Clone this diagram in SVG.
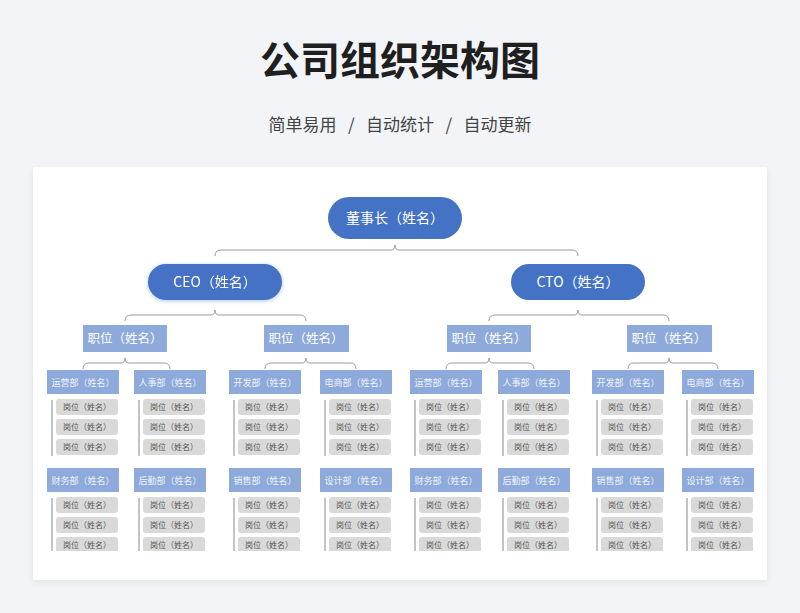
<svg xmlns="http://www.w3.org/2000/svg" width="800" height="613" viewBox="0 0 800 613">
<defs>
<style>
text{font-family:"Noto Sans CJK SC","Noto Sans",sans-serif;text-anchor:middle}
.t{font-size:40px;font-weight:bold;fill:#1f1f1f}
.s{font-size:17px;fill:#444}
.pill{fill:#4472c4}
.pt{font-size:14px;fill:#fff}
.pos{fill:#8eaadb}
.post{font-size:12.5px;fill:#fff}
.dep{fill:#8eaadb}
.dt{font-size:9px;fill:#eef2fb}
.job{fill:#d9d9d9}
.jt{font-size:8px;fill:#555}
.ln{fill:none;stroke:#9a9a9a;stroke-width:1}
.vl{stroke:#888;stroke-width:1}
</style>
<filter id="sh" x="-5%" y="-5%" width="110%" height="115%"><feDropShadow dx="0" dy="2" stdDeviation="3" flood-color="#000" flood-opacity="0.08"/></filter>
<filter id="gl" x="-20%" y="-30%" width="140%" height="170%"><feDropShadow dx="0" dy="1" stdDeviation="2" flood-color="#4472c4" flood-opacity="0.4"/></filter>
<clipPath id="cl"><rect x="0" y="0" width="800" height="551"/></clipPath>
<g id="col">
<line class="vl" x1="5" y1="30" x2="5" y2="86"/>
<rect class="job" x="9" y="29" width="62" height="16" rx="3"/><text class="jt" x="40" y="40">岗位（姓名）</text>
<rect class="job" x="9" y="49" width="62" height="16" rx="3"/><text class="jt" x="40" y="60">岗位（姓名）</text>
<rect class="job" x="9" y="69" width="62" height="16" rx="3"/><text class="jt" x="40" y="80">岗位（姓名）</text>
</g>
</defs>
<rect width="800" height="613" fill="#f2f4f7"/>
<text class="t" x="400" y="75">公司组织架构图</text>
<text class="s" x="400" y="131" xml:space="preserve">简单易用   /   自动统计   /   自动更新</text>
<rect x="33" y="167" width="734" height="413" fill="#fff" filter="url(#sh)"/>
<g id="connectors">
<path class="ln" d="M215,256 Q215,250 221,250 H391 Q395,250 395,245 Q395,250 399,250 H572 Q578,250 578,256"/>
<path class="ln" d="M125,321 Q125,315 131,315 H211 Q215,315 215,310 Q215,315 219,315 H300 Q306,315 306,321"/>
<path class="ln" d="M489,321 Q489,315 495,315 H574 Q578,315 578,310 Q578,315 582,315 H663 Q669,315 669,321"/>
<path class="ln" d="M83,369 Q83,363 89,363 H121 Q125,363 125,358 Q125,363 129,363 H164 Q170,363 170,369"/>
<path class="ln" d="M265,369 Q265,363 271,363 H302 Q306,363 306,358 Q306,363 310,363 H350 Q356,363 356,369"/>
<path class="ln" d="M446,369 Q446,363 452,363 H485 Q489,363 489,358 Q489,363 493,363 H528 Q534,363 534,369"/>
<path class="ln" d="M628,369 Q628,363 634,363 H665 Q669,363 669,358 Q669,363 673,363 H712 Q718,363 718,369"/>
</g>
<g id="chair"><rect class="pill" x="328" y="197" width="134" height="42" rx="21"/><text class="pt" x="395" y="223">董事长（姓名）</text></g>
<g id="ceo" filter="url(#gl)"><rect class="pill" x="148" y="264" width="134" height="36" rx="18"/><text class="pt" x="215" y="287">CEO（姓名）</text></g>
<g id="cto"><rect class="pill" x="511" y="264" width="134" height="36" rx="18"/><text class="pt" x="578" y="287">CTO（姓名）</text></g>
<g id="pos1"><rect class="pos" x="83" y="325" width="84" height="27"/><text class="post" x="125" y="343">职位（姓名）</text></g>
<g id="pos2"><rect class="pos" x="264" y="325" width="85" height="27"/><text class="post" x="306" y="343">职位（姓名）</text></g>
<g id="pos3"><rect class="pos" x="447" y="325" width="84" height="27"/><text class="post" x="489" y="343">职位（姓名）</text></g>
<g id="pos4"><rect class="pos" x="627" y="325" width="85" height="27"/><text class="post" x="669" y="343">职位（姓名）</text></g>
<g clip-path="url(#cl)">
<g id="d1" transform="translate(47,370)"><rect class="dep" width="72" height="24"/><text class="dt" x="36" y="15.5">运营部（姓名）</text><use href="#col"/></g>
<g id="d2" transform="translate(134,370)"><rect class="dep" width="72" height="24"/><text class="dt" x="36" y="15.5">人事部（姓名）</text><use href="#col"/></g>
<g id="d3" transform="translate(229,370)"><rect class="dep" width="72" height="24"/><text class="dt" x="36" y="15.5">开发部（姓名）</text><use href="#col"/></g>
<g id="d4" transform="translate(320,370)"><rect class="dep" width="72" height="24"/><text class="dt" x="36" y="15.5">电商部（姓名）</text><use href="#col"/></g>
<g id="d5" transform="translate(410,370)"><rect class="dep" width="72" height="24"/><text class="dt" x="36" y="15.5">运营部（姓名）</text><use href="#col"/></g>
<g id="d6" transform="translate(498,370)"><rect class="dep" width="72" height="24"/><text class="dt" x="36" y="15.5">人事部（姓名）</text><use href="#col"/></g>
<g id="d7" transform="translate(592,370)"><rect class="dep" width="72" height="24"/><text class="dt" x="36" y="15.5">开发部（姓名）</text><use href="#col"/></g>
<g id="d8" transform="translate(682,370)"><rect class="dep" width="72" height="24"/><text class="dt" x="36" y="15.5">电商部（姓名）</text><use href="#col"/></g>
<g id="d9" transform="translate(47,468)"><rect class="dep" width="72" height="24"/><text class="dt" x="36" y="15.5">财务部（姓名）</text><use href="#col"/></g>
<g id="d10" transform="translate(134,468)"><rect class="dep" width="72" height="24"/><text class="dt" x="36" y="15.5">后勤部（姓名）</text><use href="#col"/></g>
<g id="d11" transform="translate(229,468)"><rect class="dep" width="72" height="24"/><text class="dt" x="36" y="15.5">销售部（姓名）</text><use href="#col"/></g>
<g id="d12" transform="translate(320,468)"><rect class="dep" width="72" height="24"/><text class="dt" x="36" y="15.5">设计部（姓名）</text><use href="#col"/></g>
<g id="d13" transform="translate(410,468)"><rect class="dep" width="72" height="24"/><text class="dt" x="36" y="15.5">财务部（姓名）</text><use href="#col"/></g>
<g id="d14" transform="translate(498,468)"><rect class="dep" width="72" height="24"/><text class="dt" x="36" y="15.5">后勤部（姓名）</text><use href="#col"/></g>
<g id="d15" transform="translate(592,468)"><rect class="dep" width="72" height="24"/><text class="dt" x="36" y="15.5">销售部（姓名）</text><use href="#col"/></g>
<g id="d16" transform="translate(682,468)"><rect class="dep" width="72" height="24"/><text class="dt" x="36" y="15.5">设计部（姓名）</text><use href="#col"/></g>
</g>
</svg>
